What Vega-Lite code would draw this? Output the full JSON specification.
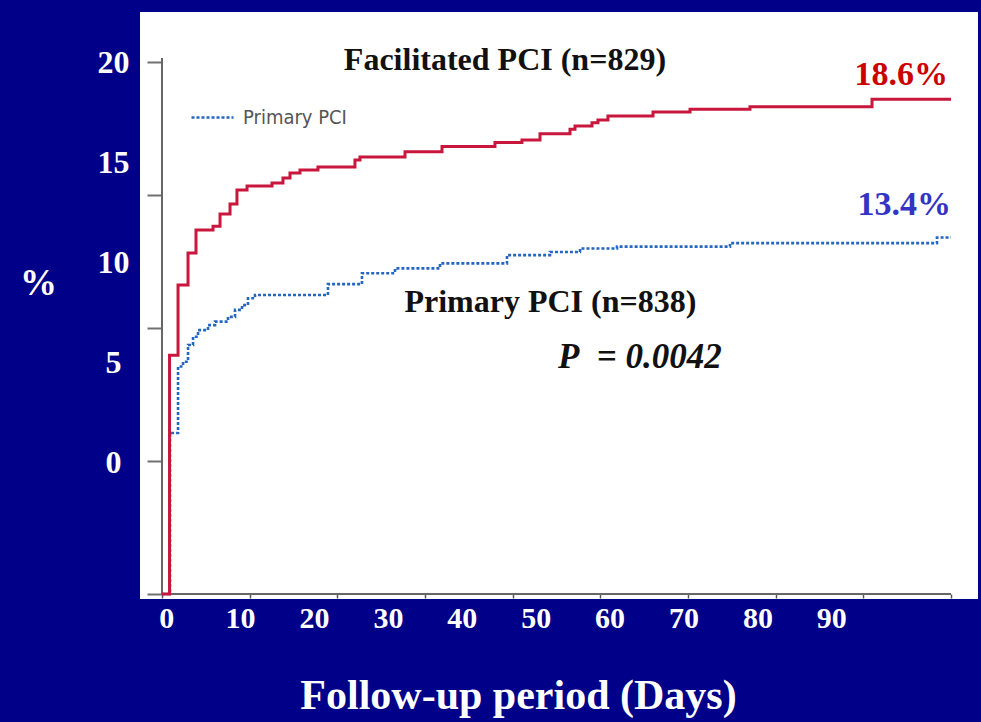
{
  "$schema": "https://vega.github.io/schema/vega-lite/v6.json",
  "width": 838,
  "height": 587,
  "autosize": "none",
  "padding": {"left": 140, "top": 12, "right": 3, "bottom": 123},
  "background": "#000088",
  "datasets": {
    "curves": [
      {"arm": "Facilitated PCI", "day": 0, "pct": 0},
      {"arm": "Facilitated PCI", "day": 0.86, "pct": 8.98},
      {"arm": "Facilitated PCI", "day": 1.83, "pct": 11.62},
      {"arm": "Facilitated PCI", "day": 2.97, "pct": 12.82},
      {"arm": "Facilitated PCI", "day": 3.88, "pct": 13.68},
      {"arm": "Facilitated PCI", "day": 5.82, "pct": 13.83},
      {"arm": "Facilitated PCI", "day": 6.62, "pct": 14.29},
      {"arm": "Facilitated PCI", "day": 7.76, "pct": 14.66},
      {"arm": "Facilitated PCI", "day": 8.55, "pct": 15.19},
      {"arm": "Facilitated PCI", "day": 9.7, "pct": 15.34},
      {"arm": "Facilitated PCI", "day": 12.55, "pct": 15.45},
      {"arm": "Facilitated PCI", "day": 13.8, "pct": 15.64},
      {"arm": "Facilitated PCI", "day": 14.6, "pct": 15.83},
      {"arm": "Facilitated PCI", "day": 15.74, "pct": 15.94},
      {"arm": "Facilitated PCI", "day": 17.79, "pct": 16.05},
      {"arm": "Facilitated PCI", "day": 22.01, "pct": 16.32},
      {"arm": "Facilitated PCI", "day": 22.58, "pct": 16.43},
      {"arm": "Facilitated PCI", "day": 27.72, "pct": 16.63},
      {"arm": "Facilitated PCI", "day": 31.94, "pct": 16.82},
      {"arm": "Facilitated PCI", "day": 37.98, "pct": 16.97},
      {"arm": "Facilitated PCI", "day": 41.06, "pct": 17.07},
      {"arm": "Facilitated PCI", "day": 43.12, "pct": 17.3},
      {"arm": "Facilitated PCI", "day": 46.54, "pct": 17.47},
      {"arm": "Facilitated PCI", "day": 47.11, "pct": 17.59},
      {"arm": "Facilitated PCI", "day": 49.05, "pct": 17.72},
      {"arm": "Facilitated PCI", "day": 49.73, "pct": 17.82},
      {"arm": "Facilitated PCI", "day": 50.87, "pct": 17.97},
      {"arm": "Facilitated PCI", "day": 56.01, "pct": 18.12},
      {"arm": "Facilitated PCI", "day": 60.23, "pct": 18.22},
      {"arm": "Facilitated PCI", "day": 67.07, "pct": 18.32},
      {"arm": "Facilitated PCI", "day": 80.99, "pct": 18.6},
      {"arm": "Facilitated PCI", "day": 90, "pct": 18.6},
      {"arm": "Primary PCI", "day": 0, "pct": 0},
      {"arm": "Primary PCI", "day": 0.91, "pct": 6.05},
      {"arm": "Primary PCI", "day": 1.83, "pct": 8.55},
      {"arm": "Primary PCI", "day": 2.4, "pct": 8.73},
      {"arm": "Primary PCI", "day": 2.97, "pct": 9.36},
      {"arm": "Primary PCI", "day": 3.54, "pct": 9.67},
      {"arm": "Primary PCI", "day": 4.11, "pct": 9.92},
      {"arm": "Primary PCI", "day": 5.25, "pct": 10.11},
      {"arm": "Primary PCI", "day": 6.05, "pct": 10.24},
      {"arm": "Primary PCI", "day": 7.53, "pct": 10.42},
      {"arm": "Primary PCI", "day": 8.33, "pct": 10.68},
      {"arm": "Primary PCI", "day": 9.13, "pct": 10.86},
      {"arm": "Primary PCI", "day": 9.81, "pct": 11.12},
      {"arm": "Primary PCI", "day": 10.61, "pct": 11.24},
      {"arm": "Primary PCI", "day": 18.93, "pct": 11.65},
      {"arm": "Primary PCI", "day": 22.81, "pct": 12.06},
      {"arm": "Primary PCI", "day": 26.58, "pct": 12.24},
      {"arm": "Primary PCI", "day": 31.71, "pct": 12.43},
      {"arm": "Primary PCI", "day": 39.35, "pct": 12.74},
      {"arm": "Primary PCI", "day": 44.26, "pct": 12.86},
      {"arm": "Primary PCI", "day": 47.68, "pct": 12.99},
      {"arm": "Primary PCI", "day": 51.9, "pct": 13.06},
      {"arm": "Primary PCI", "day": 64.79, "pct": 13.19},
      {"arm": "Primary PCI", "day": 88.4, "pct": 13.4},
      {"arm": "Primary PCI", "day": 90, "pct": 13.4}
    ],
    "notes": [
      {"note": "Facilitated PCI (n=829)"},
      {"note": "Primary PCI (n=838)"},
      {"note": "P\u00a0 = 0.0042"}
    ]
  },
  "layer": [
    {
      "layer": [
        {
          "data": {"values": [{"axis": "y"}]},
          "mark": {"type": "rule", "color": "#666666", "strokeWidth": 2},
          "encoding": {"x": {"datum": 0}, "y": {"datum": 0}, "y2": {"datum": 20.15}}
        },
        {
          "data": {"values": [{"axis": "x"}]},
          "mark": {"type": "rule", "color": "#666666", "strokeWidth": 2},
          "encoding": {"y": {"datum": 0}, "x": {"datum": 0}, "x2": {"datum": 90}}
        },
        {
          "data": {"name": "curves"},
          "transform": [{"filter": "datum.arm == 'Primary PCI'"}],
          "mark": {"type": "line", "interpolate": "step-after", "strokeWidth": 2.6, "strokeDash": [3, 2]},
          "encoding": {
            "x": {
              "field": "day", "type": "quantitative",
              "scale": {"domain": [-2.509, 93.08], "nice": false, "zero": false},
              "axis": {
                "orient": "bottom", "offset": -5, "values": [0, 10, 20, 30, 40, 50, 60, 70, 80, 90],
                "domain": false, "labels": false, "grid": false, "tickSize": 4,
                "tickColor": "#555555", "tickWidth": 1.5, "title": null
              }
            },
            "y": {
              "field": "pct", "type": "quantitative",
              "scale": {"domain": [-0.188, 21.88], "nice": false, "zero": false},
              "axis": {
                "orient": "left", "offset": -22, "values": [0, 5, 10, 15, 20],
                "domain": false, "labels": false, "grid": false, "tickSize": 15,
                "tickColor": "#707070", "tickWidth": 2, "title": null
              }
            },
            "color": {
              "field": "arm", "type": "nominal",
              "scale": {"domain": ["Facilitated PCI", "Primary PCI"], "range": ["#c8163c", "#2466c0"]},
              "legend": {
                "values": ["Primary PCI"], "title": null, "orient": "none",
                "legendX": 50, "legendY": 83, "padding": 0,
                "symbolType": "stroke", "symbolSize": 1764, "symbolStrokeWidth": 2.5,
                "symbolDash": [3, 2], "labelFont": "Liberation Sans Narrow, DejaVu Sans Condensed, sans-serif",
                "labelFontSize": 20, "labelColor": "#555555", "labelOffset": 8
              }
            }
          }
        },
        {
          "data": {"name": "curves"},
          "transform": [{"filter": "datum.arm == 'Facilitated PCI'"}],
          "mark": {"type": "line", "interpolate": "step-after", "strokeWidth": 3},
          "encoding": {
            "x": {"field": "day", "type": "quantitative"},
            "y": {"field": "pct", "type": "quantitative"},
            "color": {"field": "arm", "type": "nominal"}
          }
        },
        {
          "data": {"name": "curves"},
          "transform": [
            {"filter": "datum.day == 90 && datum.arm == 'Facilitated PCI'"},
            {"calculate": "format(datum.pct, '.1f') + '%'", "as": "label"}
          ],
          "mark": {
            "type": "text", "align": "right", "baseline": "alphabetic", "dx": -3, "dy": -14,
            "font": "Liberation Serif", "fontWeight": "bold", "fontSize": 34, "color": "#cc0000"
          },
          "encoding": {
            "x": {"field": "day", "type": "quantitative"},
            "y": {"field": "pct", "type": "quantitative"},
            "text": {"field": "label"}
          }
        },
        {
          "data": {"name": "curves"},
          "transform": [
            {"filter": "datum.day == 90 && datum.arm == 'Primary PCI'"},
            {"calculate": "format(datum.pct, '.1f') + '%'", "as": "label"}
          ],
          "mark": {
            "type": "text", "align": "right", "baseline": "alphabetic", "dx": 0, "dy": -23,
            "font": "Liberation Serif", "fontWeight": "bold", "fontSize": 34, "color": "#3434c4"
          },
          "encoding": {
            "x": {"field": "day", "type": "quantitative"},
            "y": {"field": "pct", "type": "quantitative"},
            "text": {"field": "label"}
          }
        },
        {
          "data": {"name": "notes"},
          "transform": [{"filter": "datum.note == 'Facilitated PCI (n=829)'"}],
          "mark": {
            "type": "text", "align": "center", "baseline": "alphabetic",
            "font": "Liberation Serif", "fontWeight": "bold", "fontSize": 32, "color": "#111111"
          },
          "encoding": {"x": {"datum": 39.12}, "y": {"datum": 19.7}, "text": {"field": "note"}}
        },
        {
          "data": {"name": "notes"},
          "transform": [{"filter": "datum.note == 'Primary PCI (n=838)'"}],
          "mark": {
            "type": "text", "align": "center", "baseline": "alphabetic",
            "font": "Liberation Serif", "fontWeight": "bold", "fontSize": 32, "color": "#111111"
          },
          "encoding": {"x": {"datum": 44.3}, "y": {"datum": 10.61}, "text": {"field": "note"}}
        },
        {
          "data": {"name": "notes"},
          "transform": [{"filter": "indexof(datum.note, '0.0042') >= 0"}],
          "mark": {
            "type": "text", "align": "left", "baseline": "alphabetic",
            "font": "Liberation Serif", "fontWeight": "bold", "fontStyle": "italic", "fontSize": 35, "color": "#111111"
          },
          "encoding": {"x": {"datum": 45.17}, "y": {"datum": 8.48}, "text": {"field": "note"}}
        }
      ]
    },
    {
      "data": {"values": [{"v": 0}]},
      "mark": {"type": "point", "opacity": 0},
      "encoding": {
        "x": {
          "field": "v", "type": "quantitative",
          "scale": {"domain": [-3.545, 109.85], "nice": false, "zero": false},
          "axis": {
            "orient": "bottom", "values": [0, 10, 20, 30, 40, 50, 60, 70, 80, 90],
            "domain": false, "ticks": false, "tickSize": 0, "grid": false,
            "labelColor": "white", "labelFont": "Liberation Serif", "labelFontWeight": "bold",
            "labelFontSize": 30, "labelPadding": 4, "labelFlush": false, "labelOverlap": false,
            "title": "Follow-up period (Days)", "titleColor": "white", "titleFont": "Liberation Serif",
            "titleFontWeight": "bold", "titleFontSize": 42, "titleX": 378, "titleY": 109,
            "titleBaseline": "alphabetic", "titleAlign": "center"
          }
        },
        "y": {
          "field": "v", "type": "quantitative",
          "scale": {"domain": [-6.85, 22.5], "nice": false, "zero": false},
          "axis": {
            "orient": "left", "values": [0, 5, 10, 15, 20],
            "domain": false, "ticks": false, "tickSize": 0, "grid": false,
            "labelColor": "white", "labelFont": "Liberation Serif", "labelFontWeight": "bold",
            "labelFontSize": 32, "labelAlign": "center", "labelPadding": 27, "labelFlush": false,
            "labelOverlap": false,
            "title": "%", "titleColor": "white", "titleFont": "Liberation Serif", "titleFontWeight": "bold",
            "titleFontSize": 37, "titleAngle": 0, "titleX": -102, "titleY": 271,
            "titleAlign": "center", "titleBaseline": "middle"
          }
        }
      }
    }
  ],
  "resolve": {
    "scale": {"x": "independent", "y": "independent"},
    "axis": {"x": "independent", "y": "independent"}
  },
  "config": {
    "view": {"fill": "white", "stroke": null}
  }
}
